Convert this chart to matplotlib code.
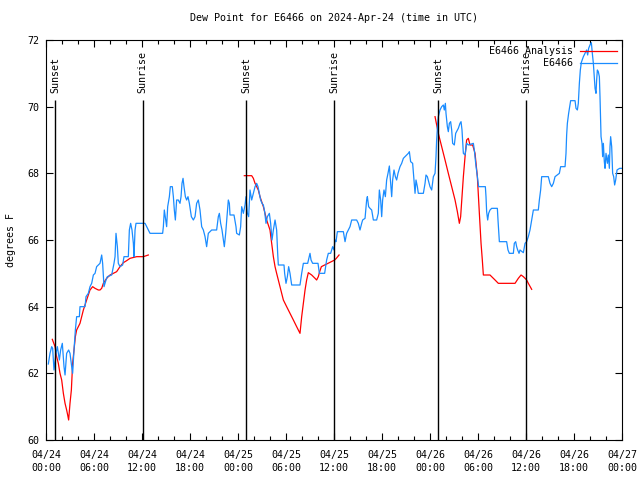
import numpy as np
import matplotlib
matplotlib.use("Agg")
from matplotlib import pyplot as plt

# hours since 2024-04-24 00:00 UTC
obs_hours = [
    0.29, 0.50, 0.71, 0.83, 1.00, 1.25, 1.42, 1.67, 1.83, 2.04, 2.25, 2.38, 2.58, 2.83, 3.00,
    3.21, 3.33, 3.50, 3.67, 3.83, 4.17, 4.25, 4.88, 5.00, 5.29, 5.50, 5.71, 5.92, 6.13, 6.33,
    6.54, 6.75, 6.96, 7.08, 7.25, 7.50, 7.67, 8.21, 8.50, 8.63, 8.75, 8.92, 9.04, 9.25, 9.58,
    9.75, 10.29, 10.42, 10.58, 10.75, 10.92, 11.00, 11.13, 11.25, 11.54, 12.38, 12.79, 13.00,
    14.58, 14.67, 14.79, 14.96, 15.08, 15.21, 15.42, 15.54, 15.79, 15.92, 16.04, 16.17, 16.33,
    16.54, 16.75, 16.88, 17.00, 17.13, 17.25, 17.42, 17.58, 17.75, 17.92, 18.17, 18.42, 18.63,
    18.83, 19.04, 19.25, 19.46, 19.67, 19.88, 20.08, 20.29, 20.71, 21.33, 21.54, 21.67, 21.83,
    22.00, 22.17, 22.29, 22.46, 22.63, 22.79, 22.92,
    23.00, 23.50, 23.75, 23.83, 24.17, 24.33, 24.46, 24.67, 24.88, 25.00, 25.17, 25.33, 25.50,
    25.71, 25.92, 26.13, 26.33, 26.50, 26.67, 26.83, 27.00, 27.17, 27.33, 27.50, 27.67, 27.92,
    28.08, 28.25, 28.42, 28.63, 28.83, 28.96, 29.04, 29.75, 29.83, 30.00, 30.17, 30.33, 30.50,
    30.71, 31.75, 31.96, 32.17, 32.71, 33.00, 33.13, 33.33, 34.00, 34.17, 34.83, 35.08, 35.29,
    35.58, 35.83, 36.00, 36.13, 36.25, 36.42, 37.17, 37.38, 37.58, 37.79, 38.00, 38.21, 38.83,
    39.04, 39.25, 39.46, 39.58, 39.88, 40.08, 40.17, 40.33, 40.50, 40.71, 40.92, 41.33, 41.54,
    41.67, 41.83, 41.96, 42.08, 42.25, 42.42, 42.58, 42.75, 42.92, 43.08, 43.21, 43.33, 43.50,
    43.67, 43.83, 44.00, 44.25, 44.46, 44.67, 44.88, 45.08, 45.29, 45.42, 45.58, 45.83, 46.00,
    46.13, 46.25, 46.42, 46.54, 47.17, 47.38, 47.50, 47.67, 47.83, 48.00, 48.21, 48.42, 48.63,
    48.75, 48.83, 48.96, 49.04, 49.25, 49.46, 49.67,
    49.79, 49.92, 50.00, 50.17, 50.29, 50.42, 50.58, 50.71, 50.83, 51.04, 51.21, 51.42, 51.54,
    51.75, 51.88, 52.00, 52.17, 52.38, 52.58, 52.79, 53.42, 53.54, 53.71, 53.92, 54.08, 54.92,
    55.00, 55.08, 55.21, 55.33, 55.50, 55.71, 56.42, 56.50, 56.67, 57.58, 57.75, 57.92, 58.42,
    58.54, 58.71, 58.83, 58.96, 59.13, 59.25, 59.67, 59.88, 60.08, 60.29, 60.50, 60.71, 60.92,
    61.54, 61.67, 61.83, 61.96, 62.79, 63.00, 63.21, 63.42, 63.63, 64.17, 64.33, 64.88, 65.00,
    65.08, 65.17, 65.33, 65.58, 66.13, 66.25, 66.42, 66.54, 66.67, 66.79, 66.92, 67.17, 67.38,
    67.58, 67.71, 67.83, 68.00, 68.17, 68.29, 68.42, 68.50, 68.63, 68.75, 68.83, 68.92, 69.04,
    69.17, 69.25, 69.38, 69.50, 69.58, 69.67, 69.79, 69.88, 70.00, 70.17, 70.29, 70.42, 70.50,
    70.58, 70.71, 70.83, 70.96, 71.08, 71.21, 71.38, 71.50, 71.71, 71.92,
]
obs_dewpt = [
    62.28, 62.60, 62.80, 62.75, 62.10, 62.60, 62.80, 62.40, 62.70, 62.90, 62.20, 61.95, 62.60, 62.70, 62.60,
    62.20, 62.00, 62.70, 63.30, 63.70, 63.70, 64.00, 64.00, 64.30, 64.40, 64.60, 64.70, 64.95, 65.00, 65.20,
    65.25, 65.30, 65.55, 65.30, 64.60, 64.80, 64.90, 64.95, 65.30, 65.50, 66.20, 65.80, 65.30, 65.20, 65.25,
    65.50, 65.50, 66.30, 66.50, 66.30, 65.90, 65.50, 66.30, 66.50, 66.50, 66.50, 66.30, 66.20,
    66.20, 66.40, 66.90, 66.60, 66.40, 67.00, 67.30, 67.60, 67.60, 67.30, 66.90, 66.60, 67.20,
    67.20, 67.10, 67.30, 67.70, 67.85, 67.60, 67.30, 67.20, 67.30, 67.10, 66.70, 66.60, 66.70,
    67.10, 67.20, 66.90, 66.40, 66.30, 66.10, 65.80, 66.20, 66.30, 66.30, 66.70, 66.80, 66.50,
    66.30, 66.00, 65.80, 66.20, 66.70, 67.20, 67.10,
    66.75, 66.75, 66.40, 66.20, 66.15, 66.40, 67.00, 66.80, 67.05, 67.30, 66.80, 66.70, 67.50,
    67.20, 67.40, 67.60, 67.70, 67.60, 67.40, 67.20, 67.10, 67.05, 66.85, 66.50, 66.70, 66.80,
    66.50, 66.00, 66.30, 66.60, 66.30, 65.60, 65.25, 65.25, 65.00, 64.70, 64.90, 65.20, 65.00,
    64.65, 64.65, 65.00, 65.30, 65.30, 65.60, 65.40, 65.30, 65.30, 65.00, 65.00, 65.40, 65.60,
    65.60, 65.80, 65.70, 66.00, 65.95, 66.25, 66.25, 65.95, 66.20, 66.30, 66.40, 66.60, 66.60,
    66.50, 66.30, 66.50, 66.60, 66.65, 67.20, 67.30, 67.00, 66.95, 66.90, 66.60, 66.60, 66.80,
    67.50, 67.20, 66.70, 67.20, 67.50, 67.30, 67.80, 68.00, 68.22, 67.70, 67.30, 67.80, 68.10,
    67.90, 67.80, 68.00, 68.20, 68.30, 68.45, 68.50, 68.55, 68.60, 68.65, 68.35, 68.30, 67.80,
    67.40, 67.80, 67.60, 67.40, 67.40, 67.70, 67.95, 67.90, 67.75, 67.60, 67.50, 67.90, 68.00,
    68.50, 69.00, 69.50, 69.70, 69.90, 70.00, 70.05,
    69.90, 70.10, 69.80, 69.40, 69.25, 69.50, 69.55, 69.30, 68.90, 68.85, 69.20, 69.30, 69.35,
    69.50, 69.55, 69.30, 68.60, 68.55, 68.90, 68.85, 68.90, 68.70, 68.30, 67.90, 67.60, 67.60,
    67.30, 66.85, 66.60, 66.80, 66.90, 66.95, 66.95, 66.60, 65.95, 65.95, 65.70, 65.60, 65.60,
    65.90, 65.95, 65.80, 65.70, 65.60, 65.70, 65.62, 65.90, 65.95, 66.10, 66.30, 66.60, 66.90,
    66.90, 67.20, 67.50, 67.90, 67.90, 67.70, 67.60, 67.70, 67.90, 68.00, 68.20, 68.20, 68.60,
    69.15, 69.50, 69.80, 70.18, 70.18, 69.95, 69.90, 70.10, 70.70, 71.10, 71.33, 71.50, 71.60,
    71.70, 71.55, 71.75, 71.85, 71.92, 71.60, 71.30, 71.00, 70.55, 70.40, 70.80, 71.10, 71.05,
    70.90, 70.30, 69.10, 68.90, 68.50, 68.90, 68.35, 68.15, 68.60, 68.30, 68.55, 68.15, 68.80,
    69.10, 68.80, 68.00, 67.90, 67.65, 67.80, 68.10, 68.12, 68.15, 68.15,
]

# analysis runs (gaps between runs marked with nan)
ana_hours = [
    0.79, 1.13, 1.33, 1.54, 1.75, 1.96, 2.17, 2.38, 2.58, 2.71, 2.83, 3.00, 3.17, 3.33, 3.50,
    3.67, 3.83, 4.25, 4.67, 5.08, 5.50, 5.83, 6.13, 6.54, 6.75, 6.96, 7.17, 7.58, 8.00, 8.42,
    8.83, 9.25, 9.67, 10.08, 10.50, 11.33, 12.17, 12.79,
    np.nan,
    24.79, 25.71, 25.92, 26.13, 26.54, 26.75, 27.17, 27.58, 28.00, 28.21, 28.42, 28.63, 28.83,
    29.25, 29.67, 30.08, 30.50, 30.92, 31.33, 31.75, 31.96, 32.17, 32.38, 32.58, 32.79, 33.21,
    33.63, 33.83, 34.04, 34.21, 34.42, 34.83, 35.25, 35.67, 36.08, 36.29, 36.63,
    np.nan,
    48.63, 49.04, 49.46, 49.88, 50.29, 50.71, 51.13, 51.42, 51.67, 51.83, 52.00, 52.17, 52.38,
    52.58, 52.79, 53.00, 53.33, 53.63, 53.92, 54.17, 54.38, 54.54, 54.67, 55.50, 55.71, 56.13,
    56.54, 57.17, 58.00, 58.63, 59.04, 59.38, 59.67, 59.88, 60.08, 60.29, 60.71,
]
ana_dewpt = [
    63.02, 62.80, 62.50, 62.30, 62.00, 61.80, 61.40, 61.10, 60.90, 60.75, 60.60, 61.10, 61.50, 62.30, 62.70,
    63.10, 63.30, 63.50, 63.90, 64.20, 64.50, 64.60, 64.55, 64.50, 64.50, 64.55, 64.70, 64.85, 64.95, 65.00,
    65.05, 65.20, 65.32, 65.38, 65.45, 65.50, 65.50, 65.55,
    np.nan,
    67.93, 67.93, 67.85, 67.70, 67.50, 67.30, 67.00, 66.60, 66.30, 65.90, 65.50, 65.20, 65.00,
    64.60, 64.20, 64.00, 63.80, 63.60, 63.40, 63.20, 63.70, 64.10, 64.50, 64.80, 65.02, 64.95,
    64.85, 64.80, 64.90, 65.05, 65.20, 65.25, 65.30, 65.35, 65.40, 65.45, 65.55,
    np.nan,
    69.70, 69.20, 68.80, 68.40, 68.00, 67.60, 67.20, 66.85, 66.50, 66.70, 67.30, 67.90, 68.50,
    69.00, 69.05, 68.85, 68.85, 68.60, 67.90, 66.80, 65.90, 65.40, 64.95, 64.95, 64.90, 64.80,
    64.70, 64.70, 64.70, 64.70, 64.85, 64.95, 64.90, 64.85, 64.80, 64.70, 64.52,
]

sun_hours = [1.18, 12.08, 25.05, 36.05, 49.05, 60.05]
sun_labels = ["Sunset", "Sunrise", "Sunset", "Sunrise", "Sunset", "Sunrise"]

xtick_hours = [0, 6, 12, 18, 24, 30, 36, 42, 48, 54, 60, 66, 72]
xtick_labels = ["04/24\n00:00", "04/24\n06:00", "04/24\n12:00", "04/24\n18:00",
                "04/25\n00:00", "04/25\n06:00", "04/25\n12:00", "04/25\n18:00",
                "04/26\n00:00", "04/26\n06:00", "04/26\n12:00", "04/26\n18:00",
                "04/27\n00:00"]

plt.rcParams["font.family"] = ["DejaVu Sans Mono"]
plt.rcParams["font.size"] = 7.2

fig = plt.figure(figsize=(6.4, 4.8), dpi=100)
ax = fig.add_axes([46/640, 40/480, 576/640, 400/480])

ax.plot(ana_hours, ana_dewpt, color="#ff0000", lw=0.9, label="E6466 Analysis")
ax.plot(obs_hours, obs_dewpt, color="#1a8cff", lw=0.9, label="E6466")

for h, lab in zip(sun_hours, sun_labels):
    ax.vlines(h, 60, 70.2, color="black", lw=1.0)
    ax.text(h, 70.42, lab, rotation=90, ha="center", va="bottom")

ax.set_xlim(0, 72)
ax.set_ylim(60, 72)
ax.set_xticks(xtick_hours)
ax.set_xticklabels(xtick_labels, linespacing=1.35)
ax.set_xticks(np.arange(0, 73, 2), minor=True)
ax.set_yticks(np.arange(60, 73, 2))

ax.tick_params(which="both", direction="in", top=True, right=True, width=0.8)
ax.tick_params(which="major", length=5)
ax.tick_params(which="minor", length=3)
ax.tick_params(axis="x", pad=7)
ax.tick_params(axis="y", pad=5)
for s in ax.spines.values():
    s.set_linewidth(0.8)

ax.set_ylabel("degrees F", labelpad=8)
ax.set_title("Dew Point for E6466 on 2024-Apr-24 (time in UTC)", fontsize=7.2, pad=14)

ax.legend(loc="upper right", bbox_to_anchor=(1.0, 0.997), frameon=False,
          markerfirst=False, handlelength=3.7, handletextpad=0.7,
          labelspacing=0.2, borderaxespad=0.2, borderpad=0.3)

plt.savefig("out.png", dpi=100)
plt.close()
